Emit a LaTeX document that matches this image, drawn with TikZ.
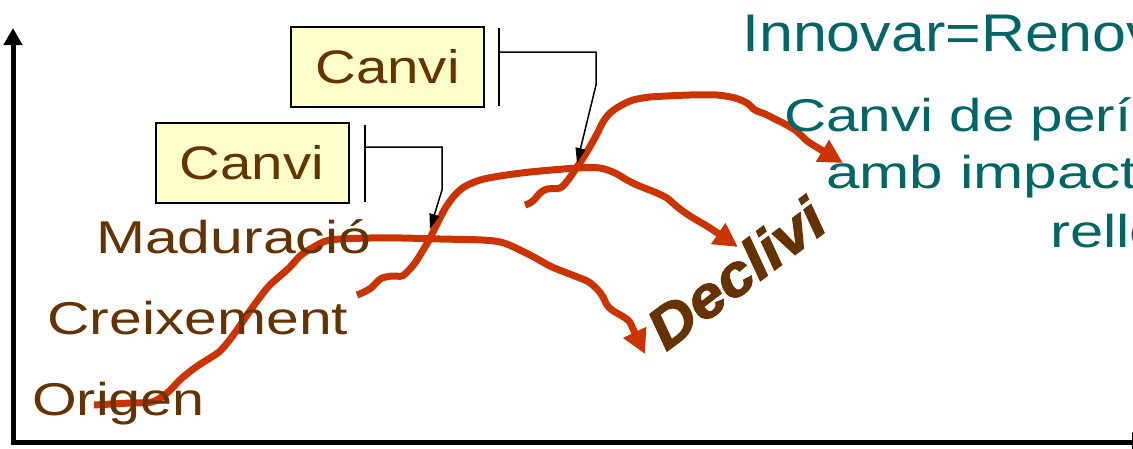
\documentclass[tikz,border=0pt]{standalone}
\usepackage{fontspec}
\usepackage{graphicx}
\setmainfont{Liberation Sans}
\newfontfamily\declfont[FakeBold=2]{Liberation Sans Bold Italic}
\usetikzlibrary{arrows.meta}
\definecolor{brn}{HTML}{663300}
\definecolor{tealc}{HTML}{006666}
\definecolor{rd}{HTML}{CC3300}
\definecolor{boxy}{HTML}{FFFFCC}
\begin{document}
\begin{tikzpicture}[x=1pt,y=-1pt,
  lbl/.style={inner sep=0pt, anchor=base west, text=brn, font=\fontsize{46}{50}\selectfont},
  tlbl/.style={inner sep=0pt, anchor=base west, text=tealc, font=\fontsize{46}{50}\selectfont},
  canvibox/.style={draw=black, line width=2pt, fill=boxy, minimum width=193pt, minimum height=80pt, inner sep=0pt, text=brn, font=\fontsize{47}{50}\selectfont},
  curve/.style={draw=rd, line width=7pt, line join=round, -{Triangle[length=24pt,width=24pt]}},
  axis/.style={draw=black, line width=5pt},
  brk/.style={draw=black, line width=2pt},
  lead/.style={draw=black, line width=1.5pt, -{Triangle[length=15pt,width=10pt]}}
]
\useasboundingbox (0,0) rectangle (1133,448);
\clip (0,0) rectangle (1133,448);

% axes
\coordinate (ytop) at (13,28);
\coordinate (xend) at (1150,442);
\draw[axis, {Triangle[length=17pt,width=18pt]}-{Triangle[length=18pt,width=18pt]}] (ytop) |- (xend);

% curves
\draw[curve] plot[smooth, tension=0.5] coordinates {(94,405) (130,403) (152,402) (167,393) (182,378) (196,367) (210,358) (219,352) (228,342) (237,330) (252,308) (268,287) (280,276) (290,267) (300,256) (312,248) (330,240) (370,238) (402,238) (440,239) (482,240) (504,243) (530,255) (550,266) (567,273) (580,278) (589,282) (598,290) (603,297) (607,305) (612,310) (622,316) (629,321) (634,331) (645,354)};
\draw[curve] plot[smooth, tension=0.5] coordinates {(357,295) (364,292) (371,288) (377,282) (382,278) (392,276) (402,276) (409,270) (415,263) (422,252) (429,240) (435,228) (440,218) (446,207) (454,196) (464,187) (480,180) (500,176) (530,172) (577,168) (600,168) (615,173) (627,180) (637,185) (647,189) (657,193) (667,198) (674,204) (680,209) (690,216) (700,222) (710,228) (738,247)};
\draw[curve] plot[smooth, tension=0.5] coordinates {(525,205) (530,203) (535,199) (540,193) (547,189) (560,188) (568,180) (577,167) (585,155) (592,143) (597,134) (603,122) (610,113) (620,106) (633,100) (650,97) (667,96) (690,95) (717,95) (735,98) (747,103) (755,110) (765,114) (775,119) (785,124) (795,130) (803,137) (810,143) (843,163)};

% boxes
\node[canvibox] (c1) at (387.5,67) {\scalebox{1.2}[1]{Canvi}};
\node[canvibox] (c2) at (252,163) {\scalebox{1.2}[1]{Canvi}};

% brackets and leaders
\coordinate (b1t) at (499,28);
\coordinate (b1b) at (499,106);
\coordinate (b1m) at (499,52);
\coordinate (b1k) at (596,85);
\coordinate (x1) at (577,163);
\draw[brk] (b1t) -- (b1b);
\draw[lead] (b1m) -| (b1k) -- (x1);

\coordinate (b2t) at (365,125);
\coordinate (b2b) at (365,202);
\coordinate (b2m) at (365,147);
\coordinate (b2k) at (442,190);
\coordinate (x2) at (430,229);
\draw[brk] (b2t) -- (b2b);
\draw[lead] (b2m) -| (b2k) -- (x2);

% labels
\node[lbl] (mad) at (96,253) {\scalebox{1.28}[1]{Maduració}};
\node[lbl] (cre) at (47,334) {\scalebox{1.28}[1]{Creixement}};
\node[lbl] (ori) at (32,415) {\scalebox{1.25}[1]{Origen}};

\node[tlbl, font=\fontsize{53}{56}\selectfont] (inn) at (742,51) {\scalebox{1.15}[1]{Innovar=Renovar}};
\node[tlbl] (t1) at (784,131) {\scalebox{1.27}[1]{Canvi de període}};
\node[tlbl] (t2) at (826,188) {\scalebox{1.31}[1]{amb impacte}};
\node[tlbl] (t3) at (1050,247) {\scalebox{1.3}[1]{rellevant}};

\node[rotate=37, anchor=base west, inner sep=0pt, text=brn, font=\fontsize{58}{62}\declfont] (dec) at (666,352) {\scalebox{1.1}[1]{Declivi}};
\end{tikzpicture}
\end{document}
